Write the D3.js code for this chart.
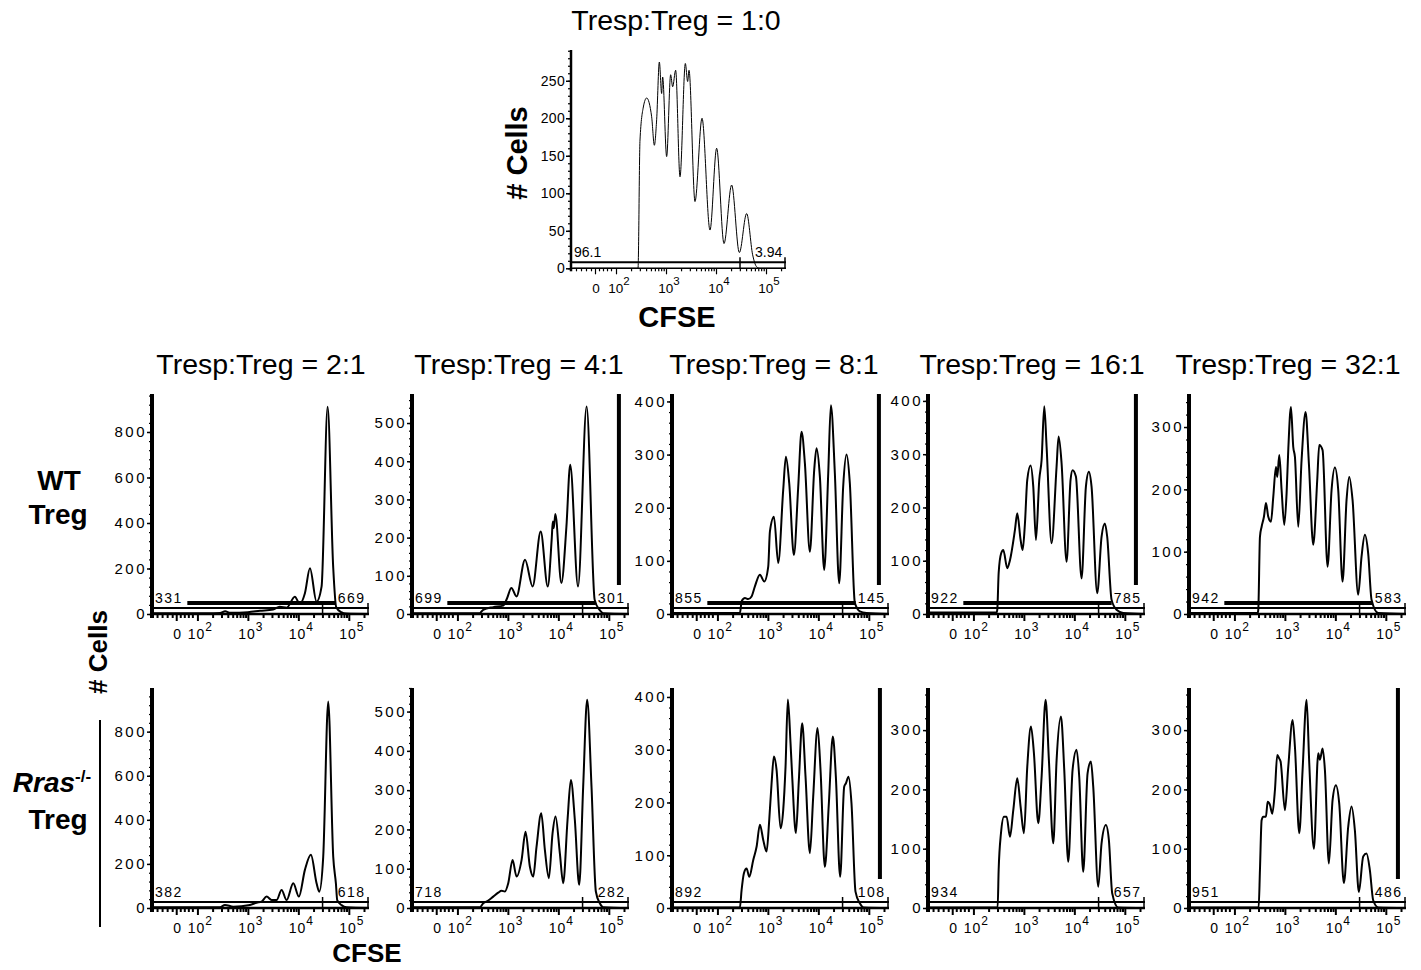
<!DOCTYPE html>
<html>
<head>
<meta charset="utf-8">
<script src="https://cdn.jsdelivr.net/npm/d3@7"></script>
<style>
body { margin: 0; background: #fff; }
text { font-family: Arial, "Liberation Sans", sans-serif; fill: #000; }
</style>
</head>
<body>
<svg id="fig" width="1421" height="970"></svg>
<script>
// ---- data: [log10 CFSE, # cells] ----
var ratios = ["2:1", "4:1", "8:1", "16:1", "32:1"];

var curve10 = [[1.15,0],[2.44,0],[2.48,171],[2.547,215],[2.613,227],[2.713,202],[2.767,164],[2.813,198],[2.867,275],[2.913,233],[2.933,255],[3.013,149],[3.093,258],[3.133,242],[3.193,264],[3.28,122],[3.387,273],[3.433,249],[3.46,264],[3.58,89],[3.72,200],[3.88,51],[4.013,160],[4.16,33],[4.313,111],[4.467,21],[4.613,73],[4.733,18],[4.813,2],[4.88,0],[5.4,0]];

var wt21 = [[1.12,3],[2.2,3],[2.45,4],[2.55,12],[2.65,5],[3.0,8],[3.24,14],[3.5,20],[3.63,32],[3.77,28],[3.93,76],[4.03,44],[4.13,91],[4.23,201],[4.36,54],[4.46,120],[4.58,911],[4.69,208],[4.75,30],[4.85,8],[4.95,2],[5.4,0]];
var wt41 = [[1.12,2],[2.44,2],[2.51,11],[2.71,18],[2.91,22],[2.98,40],[3.07,68],[3.17,46],[3.34,142],[3.49,72],[3.65,216],[3.79,72],[3.87,200],[3.89,242],[3.91,225],[3.94,262],[4.06,81],[4.16,229],[4.235,391],[4.39,72],[4.56,543],[4.72,37],[4.82,10],[4.89,2],[5.4,0]];
var wt81 = [[1.12,2],[2.446,2],[2.48,24],[2.546,30],[2.61,28],[2.677,33],[2.743,52],[2.842,74],[2.928,61],[3.007,89],[3.04,155],[3.12,183],[3.205,96],[3.304,234],[3.357,296],[3.423,246],[3.515,111],[3.60,237],[3.667,343],[3.733,284],[3.832,117],[3.918,271],[3.964,312],[4.03,259],[4.116,83],[4.196,265],[4.248,393],[4.327,265],[4.413,58],[4.492,240],[4.558,300],[4.624,246],[4.723,21],[4.822,5],[4.954,2],[5.4,0]];
var wt161 = [[1.12,3],[2.46,3],[2.473,8],[2.50,77],[2.55,114],[2.592,120],[2.671,86],[2.724,101],[2.823,158],[2.869,189],[2.935,139],[2.975,120],[3.021,170],[3.067,252],[3.133,279],[3.186,239],[3.239,139],[3.305,252],[3.351,289],[3.404,390],[3.45,314],[3.549,133],[3.648,277],[3.688,333],[3.747,283],[3.846,98],[3.925,252],[3.965,270],[4.031,258],[4.143,67],[4.229,239],[4.288,267],[4.341,239],[4.453,39],[4.539,145],[4.605,170],[4.651,145],[4.737,27],[4.836,8],[4.968,2],[5.4,0]];
var wt321 = [[1.12,1.5],[2.46,1.5],[2.473,7],[2.506,124],[2.539,140],[2.585,156],[2.625,178],[2.671,156],[2.724,148],[2.77,188],[2.823,236],[2.849,220],[2.889,255],[2.935,199],[2.988,143],[3.034,194],[3.067,263],[3.12,332],[3.166,268],[3.199,252],[3.265,140],[3.331,247],[3.41,324],[3.476,241],[3.562,111],[3.641,215],[3.681,271],[3.747,263],[3.846,76],[3.925,199],[3.991,235],[4.057,199],[4.143,52],[4.222,183],[4.275,220],[4.341,183],[4.453,31],[4.519,92],[4.585,127],[4.651,97],[4.717,23],[4.849,1.5],[5.4,0]];

var rras21 = [[1.12,3],[2.447,3],[2.546,14],[2.711,6],[3.041,14],[3.173,24],[3.272,29],[3.371,52],[3.47,36],[3.569,36],[3.668,82],[3.767,36],[3.899,112],[4.011,52],[4.13,173],[4.249,241],[4.361,112],[4.414,74],[4.493,233],[4.592,937],[4.691,233],[4.744,112],[4.77,36],[4.856,13],[4.955,3],[5.4,0]];
var rras41 = [[1.12,2],[2.446,2],[2.512,12],[2.611,19],[2.71,29],[2.809,39],[2.875,44],[2.941,42],[3.007,63],[3.093,122],[3.172,80],[3.271,122],[3.35,194],[3.436,105],[3.502,80],[3.568,156],[3.661,241],[3.733,148],[3.812,76],[3.885,190],[3.944,233],[4.03,139],[4.096,63],[4.182,224],[4.248,326],[4.327,224],[4.413,59],[4.492,309],[4.571,530],[4.657,309],[4.743,42],[4.822,12],[4.888,2],[5.4,0]];
var rras81 = [[1.12,1],[2.446,1],[2.479,34],[2.525,66],[2.578,75],[2.631,59],[2.71,91],[2.776,116],[2.842,158],[2.908,129],[2.974,107],[3.027,167],[3.073,236],[3.119,287],[3.172,262],[3.251,151],[3.304,186],[3.35,268],[3.396,395],[3.449,312],[3.482,249],[3.555,142],[3.614,243],[3.68,350],[3.746,249],[3.832,104],[3.898,211],[3.984,341],[4.043,262],[4.129,78],[4.208,198],[4.287,325],[4.347,249],[4.432,59],[4.512,230],[4.545,236],[4.598,249],[4.657,198],[4.736,31],[4.822,9],[4.9,1],[5.4,0]];
var rras161 = [[1.12,1],[2.48,1],[2.5,64],[2.546,126],[2.605,154],[2.658,154],[2.724,120],[2.79,165],[2.869,219],[2.935,171],[3.001,126],[3.067,238],[3.14,306],[3.199,261],[3.285,143],[3.351,221],[3.43,351],[3.496,249],[3.582,109],[3.648,249],[3.734,323],[3.8,233],[3.879,78],[3.965,233],[4.044,267],[4.097,221],[4.176,61],[4.262,227],[4.328,247],[4.374,205],[4.473,36],[4.539,109],[4.625,140],[4.684,115],[4.75,25],[4.869,1],[5.4,0]];
var rras321 = [[1.12,1],[2.48,1],[2.506,64],[2.539,148],[2.572,154],[2.625,154],[2.658,179],[2.704,174],[2.75,159],[2.803,199],[2.849,258],[2.889,252],[2.915,247],[3.001,165],[3.067,238],[3.153,317],[3.199,272],[3.285,126],[3.351,233],[3.43,351],[3.483,244],[3.575,100],[3.661,261],[3.694,250],[3.747,269],[3.793,233],[3.872,75],[3.945,182],[4.011,207],[4.077,176],[4.169,42],[4.255,137],[4.321,171],[4.387,131],[4.466,27],[4.552,87],[4.618,92],[4.684,64],[4.75,13],[4.849,1],[5.4,0]];

var wtCurves = [wt21, wt41, wt81, wt161, wt321];
var rrasCurves = [rras21, rras41, rras81, rras161, rras321];

// gate percentages as printed
var topGate = ["96.1", "3.94"];
var wtLeft = ["331", "699", "855", "922", "942"];
var wtRight = ["669", "301", "145", "785", "583"];
var rrasLeft = ["382", "718", "892", "934", "951"];
var rrasRight = ["618", "282", "108", "657", "486"];

// y ticks and axis tops
var topTicks = [0, 50, 100, 150, 200, 250], topMax = 291;
var wtTicks = [[0,200,400,600,800],[0,100,200,300,400,500],[0,100,200,300,400],[0,100,200,300,400],[0,100,200,300]];
var rrasTicks = [[0,200,400,600,800],[0,100,200,300,400,500],[0,100,200,300,400],[0,100,200,300],[0,100,200,300]];
var wtMax = [967, 576, 414, 413, 353];
var rrasMax = [998, 560, 417, 371, 371];

// x axis: decade positions (log10) and the "0" position of the biexponential scale
var xDomain = [1.1, 5.4];
var zeroPos = 1.58;
var decades = [2, 3, 4, 5];
var gateSplit = 4.48;
// stray bars from the neighbouring overlays
var wtBar = [1.8, 4.74];
var wtVBar = [null, 5.2, 5.2, 5.22, null];
var rrasVBar = [null, null, 5.22, null, 5.24];

// ---- layout ----
var svg = d3.select("#fig");
var colX = [152, 412, 672, 928, 1189], panelW = 217;
var titleX = [261, 519, 774, 1032, 1288];
var rowZero = [614, 908], rowTop = [394, 688];

function minorX(){
  var m = [1.2, 1.3, 1.4, 1.5, 1.66, 1.74, 1.82, 1.9];
  decades.forEach(function(d){
    if (d < 5) for (var k = 2; k < 10; k++) m.push(d + Math.log10(k));
  });
  m.push(5 + Math.log10(2));
  return m;
}

function drawPanel(o){
  var x = d3.scaleLinear().domain(xDomain).range([o.left, o.left + o.w]);
  var y = d3.scaleLinear().domain([0, o.ymax]).range([o.zero, o.top]);
  var g = svg.append("g");
  var big = !o.small;

  // x axis minor + major ticks (downward)
  var xa = g.append("g").attr("transform", "translate(0," + o.zero + ")")
    .call(d3.axisBottom(x).tickValues(minorX()).tickSize(big ? 4 : 3).tickFormat(""));
  xa.select(".domain").remove();
  xa.selectAll("line").attr("stroke-width", big ? 2 : 1.2);
  var xb = g.append("g").attr("transform", "translate(0," + o.zero + ")")
    .call(d3.axisBottom(x).tickValues([zeroPos].concat(decades)).tickSize(big ? 7 : 6).tickFormat(""));
  xb.select(".domain").remove();
  xb.selectAll("line").attr("stroke-width", big ? 2 : 1.2);

  g.append("line").attr("x1", o.left).attr("x2", o.left + o.w)
    .attr("y1", o.zero).attr("y2", o.zero)
    .attr("stroke", "#000").attr("stroke-width", big ? 2.5 : 1.6);

  // x labels
  var fs = big ? 14 : 13.5;
  var lab = g.append("g").attr("font-size", fs);
  lab.append("text").attr("x", x(zeroPos) + 1).attr("y", o.zero + 25)
    .attr("text-anchor", "middle").text("0");
  decades.forEach(function(d){
    var t = lab.append("text").attr("x", x(d) + 3).attr("y", o.zero + 25)
      .attr("text-anchor", "middle").style("letter-spacing", big ? "1px" : "0px");
    t.append("tspan").text("10");
    t.append("tspan").attr("dy", -8).attr("font-size", fs - 2).text(d);
  });

  // y axis
  var minors = [];
  var step = o.ticks[1] - o.ticks[0];
  for (var v = 0; v <= o.ymax; v += step / 5) minors.push(v);
  var ym = g.append("g").attr("transform", "translate(" + o.left + ",0)")
    .call(d3.axisLeft(y).tickValues(minors).tickSize(3).tickFormat(""));
  ym.select(".domain").remove();
  ym.selectAll("line").attr("stroke-width", 1.2);
  var ya = g.append("g").attr("transform", "translate(" + o.left + ",0)")
    .call(d3.axisLeft(y).tickValues(o.ticks).tickSize(5).tickPadding(big ? 0 : 1));
  ya.select(".domain").remove();
  ya.selectAll("line").attr("stroke-width", 1.5);
  ya.selectAll("text").attr("font-size", big ? 15 : 14).attr("fill", "#000")
    .attr("font-family", "Arial, 'Liberation Sans', sans-serif")
    .style("letter-spacing", big ? "2.5px" : "0.3px");
  g.append("line").attr("x1", o.left).attr("x2", o.left)
    .attr("y1", o.zero + (big ? 4 : 3)).attr("y2", o.top)
    .attr("stroke", "#000").attr("stroke-width", big ? 4 : 2.5);

  // gate
  var gy = o.zero - 6;
  g.append("line").attr("x1", x(xDomain[0])).attr("x2", x(xDomain[1]))
    .attr("y1", gy).attr("y2", gy).attr("stroke", "#000").attr("stroke-width", 2);
  g.append("line").attr("x1", x(xDomain[1]) - 1).attr("x2", x(xDomain[1]) - 1)
    .attr("y1", gy - 5).attr("y2", o.zero).attr("stroke", "#000").attr("stroke-width", 1.5);
  g.append("line").attr("x1", x(gateSplit)).attr("x2", x(gateSplit))
    .attr("y1", gy - 5).attr("y2", o.zero).attr("stroke", "#000").attr("stroke-width", 1.5);

  // stray overlay bars
  if (o.hbar) {
    g.append("rect").attr("x", x(o.hbar[0])).attr("width", x(o.hbar[1]) - x(o.hbar[0]))
      .attr("y", o.zero - 13).attr("height", 4).attr("fill", "#000");
  }
  if (o.vbar) {
    g.append("rect").attr("x", x(o.vbar) - 2).attr("width", 4)
      .attr("y", o.top).attr("height", o.zero - 29 - o.top).attr("fill", "#000");
  }

  // histogram
  var line = d3.line().x(function(d){ return x(d[0]); }).y(function(d){ return y(d[1]); })
    .curve(d3.curveMonotoneX);
  g.append("path").datum(o.data).attr("d", line).attr("fill", "none")
    .attr("stroke", "#000").attr("stroke-width", big ? 2 : 1).attr("stroke-linejoin", "round");

  // gate percentages
  var gl = g.append("g").attr("font-size", 14).style("letter-spacing", big ? "1.5px" : "0px");
  gl.append("text").attr("x", o.left + 3).attr("y", o.zero - 11).text(o.gl);
  gl.append("text").attr("x", x(4.78)).attr("y", o.zero - 11).text(o.gr);
}

// top panel
drawPanel({ left: 571, w: 215, zero: 268.3, top: 50, ymax: topMax, ticks: topTicks,
  data: curve10, gl: topGate[0], gr: topGate[1], small: true });

ratios.forEach(function(r, i){
  drawPanel({ left: colX[i], w: panelW, zero: rowZero[0], top: rowTop[0], ymax: wtMax[i],
    ticks: wtTicks[i], data: wtCurves[i], gl: wtLeft[i], gr: wtRight[i],
    hbar: wtBar, vbar: wtVBar[i] });
  drawPanel({ left: colX[i], w: panelW, zero: rowZero[1], top: rowTop[1], ymax: rrasMax[i],
    ticks: rrasTicks[i], data: rrasCurves[i], gl: rrasLeft[i], gr: rrasRight[i],
    vbar: rrasVBar[i] });
  svg.append("text").attr("x", titleX[i]).attr("y", 374).attr("text-anchor", "middle")
    .attr("font-size", 28.5).text("Tresp:Treg = " + r);
});

// titles and labels
svg.append("text").attr("x", 676).attr("y", 30).attr("text-anchor", "middle")
  .attr("font-size", 28.5).text("Tresp:Treg = 1:0");
svg.append("text").attr("x", 677).attr("y", 327).attr("text-anchor", "middle")
  .attr("font-size", 29).attr("font-weight", "bold").text("CFSE");
svg.append("text").attr("transform", "translate(527,153) rotate(-90)").attr("text-anchor", "middle")
  .attr("font-size", 29).attr("font-weight", "bold").text("# Cells");

svg.append("text").attr("x", 367).attr("y", 962).attr("text-anchor", "middle")
  .attr("font-size", 26).attr("font-weight", "bold").text("CFSE");
svg.append("text").attr("transform", "translate(107,652) rotate(-90)").attr("text-anchor", "middle")
  .attr("font-size", 26).attr("font-weight", "bold").text("# Cells");

svg.append("text").attr("x", 59).attr("y", 490).attr("text-anchor", "middle")
  .attr("font-size", 28).attr("font-weight", "bold").text("WT");
svg.append("text").attr("x", 58).attr("y", 524).attr("text-anchor", "middle")
  .attr("font-size", 28).attr("font-weight", "bold").text("Treg");

var rr = svg.append("text").attr("x", 52).attr("y", 792).attr("text-anchor", "middle")
  .attr("font-size", 28).attr("font-weight", "bold");
rr.append("tspan").attr("font-style", "italic").text("Rras");
rr.append("tspan").attr("dy", -10).attr("font-size", 17).text("-/-");
svg.append("text").attr("x", 58).attr("y", 829).attr("text-anchor", "middle")
  .attr("font-size", 28).attr("font-weight", "bold").text("Treg");

svg.append("line").attr("x1", 100).attr("x2", 100).attr("y1", 720).attr("y2", 927)
  .attr("stroke", "#000").attr("stroke-width", 2);
</script>
</body>
</html>
